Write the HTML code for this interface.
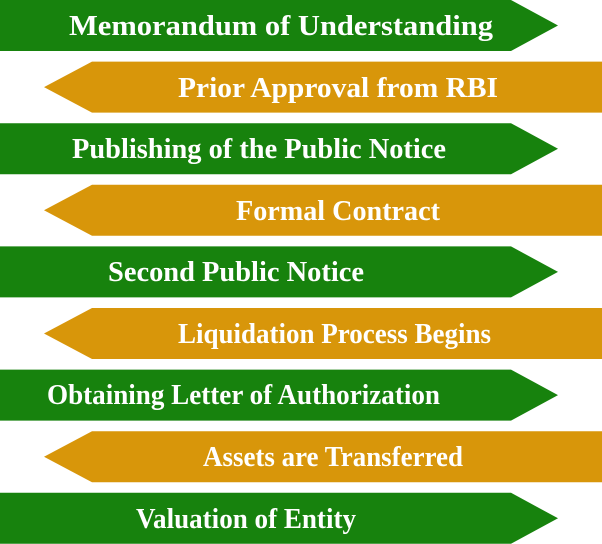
<!DOCTYPE html>
<html><head><style>html,body{margin:0;padding:0;background:#fff}svg{display:block}</style></head>
<body>
<svg width="602" height="544" viewBox="0 0 602 544" xmlns="http://www.w3.org/2000/svg" font-family="'Liberation Serif', serif" font-weight="bold" font-size="29" fill="#fff">
<g id="r">
<polygon points="0,0 511,0 558,25.5 511,51 0,51" fill="#17820D"/>
<polygon points="602,61.6 92,61.6 44,87.1 92,112.6 602,112.6" fill="#D8960A"/>
<polygon points="0,123.2 511,123.2 558,148.7 511,174.2 0,174.2" fill="#17820D"/>
<polygon points="602,184.8 92,184.8 44,210.3 92,235.8 602,235.8" fill="#D8960A"/>
<polygon points="0,246.4 511,246.4 558,271.9 511,297.4 0,297.4" fill="#17820D"/>
<polygon points="602,308 92,308 44,333.5 92,359 602,359" fill="#D8960A"/>
<polygon points="0,369.6 511,369.6 558,395.1 511,420.6 0,420.6" fill="#17820D"/>
<polygon points="602,431.2 92,431.2 44,456.7 92,482.2 602,482.2" fill="#D8960A"/>
<polygon points="0,492.8 511,492.8 558,518.3 511,543.8 0,543.8" fill="#17820D"/>
</g>
<text x="69" y="35" textLength="424" lengthAdjust="spacingAndGlyphs">Memorandum of Understanding</text>
<text x="178" y="97" textLength="320" lengthAdjust="spacingAndGlyphs">Prior Approval from RBI</text>
<text x="72" y="158" textLength="374" lengthAdjust="spacingAndGlyphs">Publishing of the Public Notice</text>
<text x="236" y="220" textLength="204" lengthAdjust="spacingAndGlyphs">Formal Contract</text>
<text x="108" y="281" textLength="256" lengthAdjust="spacingAndGlyphs">Second Public Notice</text>
<text x="178" y="343" textLength="313" lengthAdjust="spacingAndGlyphs">Liquidation Process Begins</text>
<text x="47" y="404" textLength="393" lengthAdjust="spacingAndGlyphs">Obtaining Letter of Authorization</text>
<text x="203" y="466" textLength="260" lengthAdjust="spacingAndGlyphs">Assets are Transferred</text>
<text x="136" y="528" textLength="220" lengthAdjust="spacingAndGlyphs">Valuation of Entity</text>
</svg>
</body></html>
